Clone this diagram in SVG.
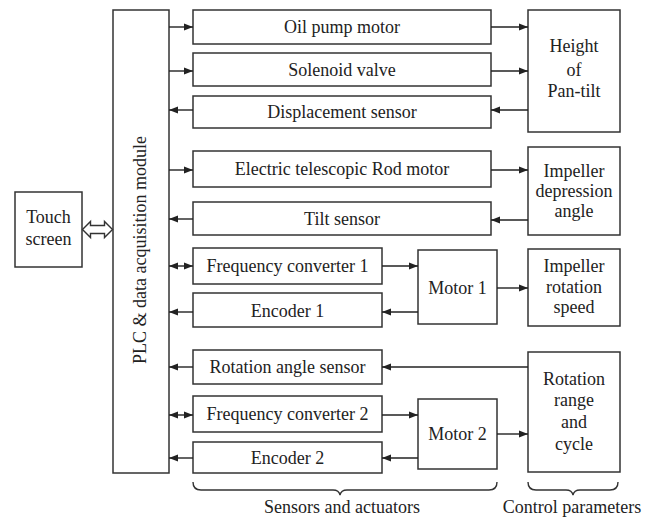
<svg xmlns="http://www.w3.org/2000/svg" width="655" height="517" viewBox="0 0 655 517">
<defs>
<marker id="ah" markerUnits="userSpaceOnUse" markerWidth="10" markerHeight="8" refX="9" refY="4" orient="auto-start-reverse">
<path d="M0,0.5 L9,4 L0,7.5 Z" fill="#222"/>
</marker>
</defs>
<style>
rect{fill:#fff;stroke:#333;stroke-width:1.5}
text{font-family:"Liberation Serif","Times New Roman",serif;font-size:18px;fill:#222;text-anchor:middle}
.c line{stroke:#222;stroke-width:1.4;fill:none}
.c path{stroke:#333;stroke-width:1.4;fill:none}
.a{marker-end:url(#ah)}
.b{marker-start:url(#ah);marker-end:url(#ah)}
</style>
<rect width="655" height="517" style="fill:#fff;stroke:none"/>
<g id="touch"><rect x="15" y="192" width="67" height="75"/><text x="48.5" y="223">Touch</text><text x="48.5" y="245">screen</text></g>
<g id="plc"><rect x="113" y="10" width="56" height="463"/><text transform="translate(146,250) rotate(-90)">PLC &amp; data acquisition module</text></g>
<g id="oil"><rect x="193" y="10" width="298" height="34"/><text x="342" y="33">Oil pump motor</text></g>
<g id="sol"><rect x="193" y="53" width="298" height="33"/><text x="342" y="76">Solenoid valve</text></g>
<g id="disp"><rect x="193" y="96" width="298" height="32"/><text x="342" y="118">Displacement sensor</text></g>
<g id="erm"><rect x="193" y="151" width="298" height="36"/><text x="342" y="175">Electric telescopic Rod motor</text></g>
<g id="tilt"><rect x="193" y="202" width="298" height="33"/><text x="342" y="225">Tilt sensor</text></g>
<g id="fc1"><rect x="193" y="248" width="189" height="36"/><text x="287.5" y="272">Frequency converter 1</text></g>
<g id="enc1"><rect x="193" y="293" width="189" height="34"/><text x="287.5" y="317">Encoder 1</text></g>
<g id="ras"><rect x="193" y="350" width="189" height="34"/><text x="287.5" y="373">Rotation angle sensor</text></g>
<g id="fc2"><rect x="193" y="396" width="189" height="36"/><text x="287.5" y="420">Frequency converter 2</text></g>
<g id="enc2"><rect x="193" y="442" width="189" height="31"/><text x="287.5" y="464">Encoder 2</text></g>
<g id="m1"><rect x="418" y="250" width="79" height="74"/><text x="457.5" y="294">Motor 1</text></g>
<g id="m2"><rect x="418" y="399" width="79" height="70"/><text x="457.5" y="440">Motor 2</text></g>
<g id="hpt"><rect x="528" y="10" width="92" height="122"/><text x="574" y="52">Height</text><text x="574" y="76">of</text><text x="574" y="97">Pan-tilt</text></g>
<g id="ida"><rect x="528" y="147" width="92" height="88"/><text x="574" y="177">Impeller</text><text x="574" y="197">depression</text><text x="574" y="217">angle</text></g>
<g id="irs"><rect x="528" y="249" width="92" height="77"/><text x="574" y="272">Impeller</text><text x="574" y="293">rotation</text><text x="574" y="313">speed</text></g>
<g id="rrc"><rect x="528" y="352" width="92" height="120"/><text x="574" y="385">Rotation</text><text x="574" y="406">range</text><text x="574" y="428">and</text><text x="574" y="450">cycle</text></g>
<g id="labels"><text x="342" y="513">Sensors and actuators</text><text x="572" y="513">Control parameters</text></g>
<g id="connectors" class="c">
<path d="M82.5,229.5 L90.5,221.5 L90.5,225.5 L104.5,225.5 L104.5,221.5 L112.5,229.5 L104.5,237.5 L104.5,233.5 L90.5,233.5 L90.5,237.5 Z" style="fill:#fff"/>
<line class="a" x1="169" y1="27" x2="193" y2="27"/>
<line class="a" x1="169" y1="71" x2="193" y2="71"/>
<line class="a" x1="193" y1="110" x2="169" y2="110"/>
<line class="a" x1="169" y1="170" x2="193" y2="170"/>
<line class="a" x1="193" y1="219" x2="169" y2="219"/>
<line class="b" x1="169" y1="266" x2="193" y2="266"/>
<line class="a" x1="193" y1="312" x2="169" y2="312"/>
<line class="a" x1="193" y1="367" x2="169" y2="367"/>
<line class="b" x1="169" y1="415" x2="193" y2="415"/>
<line class="a" x1="193" y1="458" x2="169" y2="458"/>
<line class="a" x1="491" y1="27" x2="528" y2="27"/>
<line class="a" x1="491" y1="71" x2="528" y2="71"/>
<line class="a" x1="528" y1="110" x2="491" y2="110"/>
<line class="a" x1="491" y1="170" x2="528" y2="170"/>
<line class="a" x1="528" y1="220" x2="491" y2="220"/>
<line class="a" x1="382" y1="266" x2="418" y2="266"/>
<line class="a" x1="418" y1="312" x2="382" y2="312"/>
<line class="a" x1="497" y1="288" x2="528" y2="288"/>
<line class="a" x1="528" y1="367" x2="382" y2="367"/>
<line class="a" x1="382" y1="415" x2="418" y2="415"/>
<line class="a" x1="418" y1="458" x2="382" y2="458"/>
<line class="a" x1="497" y1="434" x2="528" y2="434"/>
<path d="M193,482 Q193,490 201,490 L333,490 Q339,490 340,495 Q341,490 347,490 L489,490 Q497,490 497,482"/>
<path d="M528,482 Q528,490 536,490 L566,490 Q572,490 573,495 Q574,490 580,490 L610,490 Q618,490 618,482"/>
</g>
</svg>
